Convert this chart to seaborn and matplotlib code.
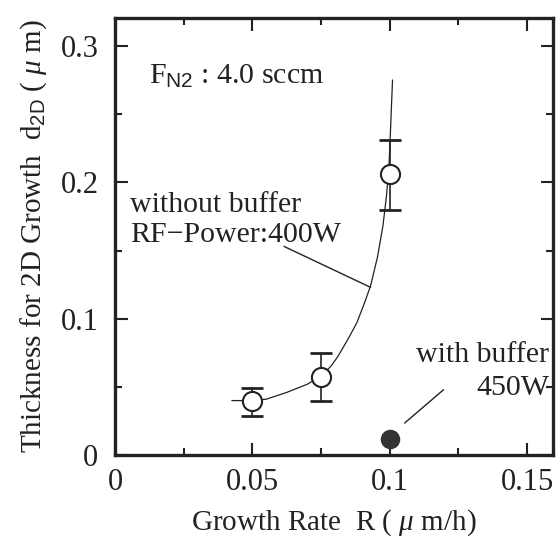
import numpy as np
import pandas as pd
import matplotlib
matplotlib.use("Agg")
import matplotlib.pyplot as plt
import seaborn as sns

# data
rate_open = [0.05, 0.075, 0.1]            # growth rate R (um/h), without buffer
thick_open = [0.040, 0.057, 0.206]        # d2D (um)
err_low = [0.011, 0.017, 0.026]
err_high = [0.009, 0.018, 0.025]

rate_filled = [0.1]                       # with buffer, 450W
thick_filled = [0.012]

# hand drawn guide curve through the open points
curve_x = [0.0425, 0.05, 0.055, 0.0625, 0.07, 0.075, 0.0785, 0.081, 0.0845,
           0.088, 0.0905, 0.093, 0.0955, 0.0975, 0.0988, 0.0997, 0.1003, 0.101]
curve_y = [0.040, 0.040, 0.041, 0.046, 0.052, 0.058, 0.065, 0.072, 0.084,
           0.097, 0.110, 0.124, 0.145, 0.168, 0.190, 0.212, 0.240, 0.275]

x_ticks = [0, 0.05, 0.1, 0.15]
x_ticklabels = ["0", "0.05", "0.1", "0.15"]
y_ticks = [0, 0.1, 0.2, 0.3]
y_ticklabels = ["0", "0.1", "0.2", "0.3"]

sns.set_theme(style="ticks")
plt.rcParams["font.family"] = ["Liberation Serif", "DejaVu Serif"]
plt.rcParams["mathtext.fontset"] = "custom"
plt.rcParams["mathtext.rm"] = "Liberation Serif"
plt.rcParams["mathtext.it"] = "Liberation Serif:italic"
plt.rcParams["mathtext.sf"] = "Liberation Sans"

ink = "#222222"
fs = 21.5

fig = plt.figure(figsize=(5.56, 5.38), dpi=100)
ax = fig.add_axes([0.207, 0.154, 0.788, 0.813])

curve = pd.DataFrame({"R": curve_x, "d": curve_y})
sns.lineplot(data=curve, x="R", y="d", sort=False, estimator=None,
             color=ink, linewidth=0.9, ax=ax, zorder=2)

ax.errorbar(rate_open, thick_open, yerr=[err_low, err_high], fmt="none",
            ecolor=ink, elinewidth=1.2, capsize=8, capthick=2, zorder=3)

pts = pd.DataFrame({"R": rate_open, "d": thick_open})
sns.scatterplot(data=pts, x="R", y="d", s=190, marker="o", facecolor="white",
                edgecolor=ink, linewidth=1.5, ax=ax, zorder=4)
filled = pd.DataFrame({"R": rate_filled, "d": thick_filled})
sns.scatterplot(data=filled, x="R", y="d", s=170, marker="o", color="#333333",
                edgecolor="#333333", linewidth=1, ax=ax, zorder=4)

ax.set_xlim(0, 0.1595)
ax.set_ylim(0, 0.3206)
ax.set_xticks(x_ticks)
ax.set_xticklabels(x_ticklabels)
ax.set_yticks(y_ticks)
ax.set_yticklabels(y_ticklabels)
ax.set_xticks([0.025, 0.075, 0.125], minor=True)
ax.set_yticks([0.05, 0.15, 0.25], minor=True)

for s in ax.spines.values():
    s.set_linewidth(2.4)
    s.set_color(ink)
ax.tick_params(which="both", direction="in", top=True, right=True,
               color=ink, labelcolor=ink, labelsize=22)
ax.tick_params(which="major", length=9, width=1.5)
ax.tick_params(axis="x", which="major", pad=9)
ax.tick_params(axis="y", which="major", pad=12)
ax.tick_params(which="minor", length=5, width=1.5)

ax.set_xlabel(r"Growth Rate  R ( $\mu$ m/h)", fontsize=21, color=ink, labelpad=8)
ax.set_ylabel(r"Thickness for 2D Growth  d$_{\mathsf{2D}}$ ( $\mu$ m)",
              fontsize=21, color=ink, labelpad=8)

# annotations
ax.text(0.0125, 0.272, r"F$_{\mathsf{N2}}$ : 4.0 sccm", fontsize=fs, color=ink,
        va="baseline", ha="left")
ax.text(0.0055, 0.178, "without buffer", fontsize=fs, color=ink, va="baseline", ha="left")
ax.text(0.0055, 0.156, "RF\u2212Power:400W", fontsize=fs, color=ink, va="baseline", ha="left")
ax.plot([0.0615, 0.093], [0.153, 0.123], color=ink, linewidth=1.0)

ax.text(0.158, 0.068, "with buffer", fontsize=fs, color=ink, va="baseline", ha="right")
ax.text(0.158, 0.044, "450W", fontsize=fs, color=ink, va="baseline", ha="right")
ax.plot([0.1054, 0.1196], [0.0235, 0.048], color=ink, linewidth=1.0)

fig.savefig("out.png", dpi=100)
